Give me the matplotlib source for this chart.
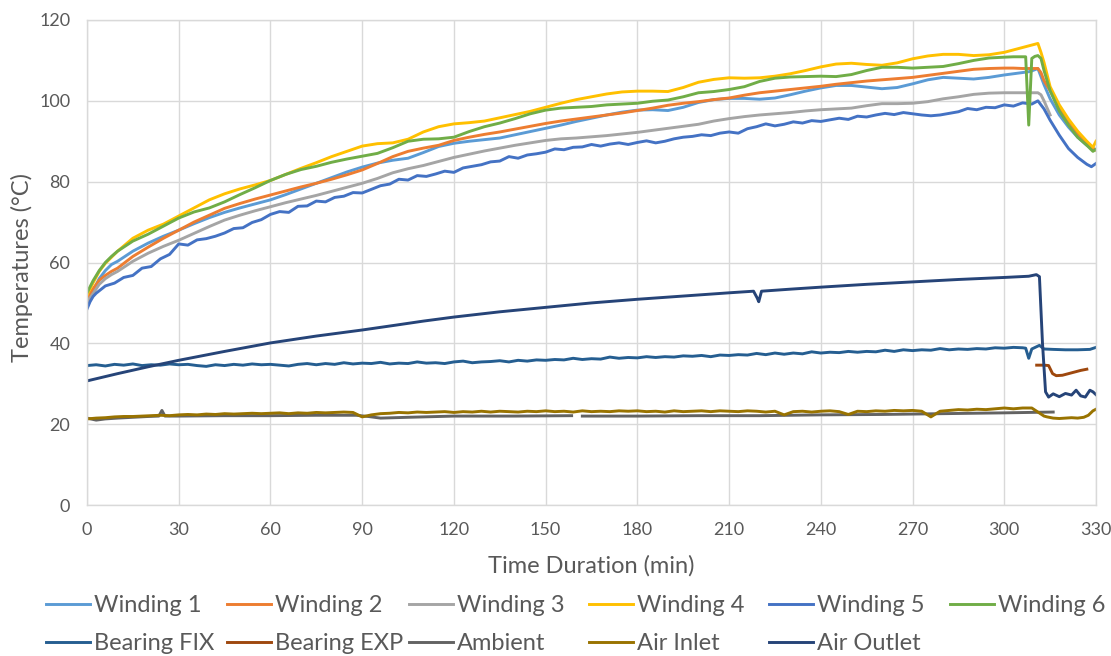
import numpy as np
import matplotlib
matplotlib.use("Agg")
import matplotlib.pyplot as plt

plt.rcParams["font.family"] = ["Lato", "DejaVu Sans"]

# ---- data ----
t_w = [0, 1, 2, 4, 6, 8] + list(range(10, 301, 5)) + \
      [303, 306, 307, 308, 309, 310, 311, 312, 313, 315, 318, 321, 324, 327, 329, 330]

winding_1 = [50, 51.5, 53, 56, 58, 59.5,
             60.3, 62.8, 64.8, 66.5, 68, 69.6, 71.1, 72.4, 73.5, 74.5, 75.5, 76.8, 78.2, 79.6,
             81, 82.4, 83.6, 84.6, 85.3, 85.8, 87.2, 88.7, 89.5, 90, 90.4, 90.8, 91.6, 92.4,
             93.2, 94, 94.9, 95.7, 96.5, 97.2, 97.7, 97.8, 97.6, 98.4, 99.6, 100.3, 100.6, 100.6,
             100.4, 100.7, 101.5, 102.4, 103.2, 103.8, 103.8, 103.4, 103, 103.3, 104.2, 105.2,
             105.8, 105.6, 105.4, 105.8, 106.4,
             106.7, 107, 107.1, 107.2, 107.4, 107.7, 108, 106, 104, 100.5, 96.5, 93.5, 91, 89, 88, 88]

winding_2 = [51, 52.3, 53.5, 55.6, 56.8, 57.8,
             58.6, 61.5, 63.8, 66, 68, 70, 71.7, 73.4, 74.6, 75.7, 76.7, 77.7, 78.7, 79.6,
             80.6, 81.7, 82.9, 84.5, 86.2, 87.5, 88.3, 89, 90.2, 91, 91.7, 92.3, 93, 93.7,
             94.4, 95, 95.5, 96, 96.5, 97, 97.6, 98.2, 98.9, 99.4, 99.8, 100.3, 100.7, 101.4,
             102, 102.4, 102.8, 103.2, 103.6, 104.1, 104.5, 104.9, 105.2, 105.5, 105.8, 106.3,
             106.8, 107.3, 107.8, 108, 108.1,
             108.1, 108, 108, 108, 108, 108, 108, 107, 105, 102.5, 98.5, 95, 92, 89.7, 88.3, 87.8]

winding_3 = [50, 51.3, 52.3, 54.6, 56, 57,
             57.8, 60.3, 62.3, 64, 65.5, 67.2, 68.9, 70.5, 71.7, 72.8, 73.8, 74.8, 75.7, 76.6,
             77.6, 78.6, 79.6, 80.8, 82.2, 83.2, 84, 85, 86, 86.8, 87.6, 88.3, 89, 89.6,
             90.2, 90.6, 90.8, 91.1, 91.4, 91.8, 92.2, 92.7, 93.2, 93.7, 94.2, 95, 95.6, 96.1,
             96.5, 96.8, 97.1, 97.5, 97.8, 98, 98.2, 98.8, 99.3, 99.3, 99.4, 99.8,
             100.5, 101, 101.6, 101.9, 102,
             102, 102, 102, 102, 102, 102, 102, 101.5, 100, 96.5, np.nan, np.nan, np.nan, np.nan, np.nan, np.nan]

winding_4 = [52, 53.5, 55, 57.8, 59.8, 61.3,
             62.8, 66, 68, 69.5, 71.5, 73.5, 75.5, 77, 78.2, 79.2, 80.3, 81.8, 83.3, 84.7,
             86.2, 87.5, 88.8, 89.4, 89.6, 90.5, 92.3, 93.6, 94.3, 94.6, 95, 95.8, 96.6, 97.4,
             98.4, 99.4, 100.3, 101, 101.7, 102.2, 102.4, 102.4, 102.3, 103.3, 104.6, 105.3, 105.7, 105.6,
             105.7, 106.1, 106.7, 107.5, 108.4, 109.1, 109.3, 109, 108.8, 109.4, 110.4, 111.1,
             111.5, 111.5, 111.2, 111.4, 112,
             112.6, 113.2, 113.4, 113.6, 113.8, 114, 114.2, 112, 109.5, 103.5, 99, 95.5, 92.5, 90, 88.5, 90]

winding_6 = [52.5, 54, 55.5, 58, 60, 61.5,
             62.8, 65.3, 67, 69, 71, 72.5, 73.5, 75, 76.8, 78.5, 80.3, 81.8, 83, 83.8,
             84.8, 85.6, 86.3, 87, 88.4, 90, 90.5, 90.6, 91, 92.4, 93.6, 94.5, 95.6, 96.8,
             97.7, 98.2, 98.4, 98.6, 99, 99.2, 99.4, 99.9, 100.2, 101, 102, 102.3, 102.8, 103.5,
             104.8, 105.6, 105.9, 106, 106.1, 106, 106.5, 107.5, 108.3, 108.3, 108.1, 108.3,
             108.5, 109.2, 110, 110.6, 110.8,
             110.9, 110.9, 110.9, 94, 110.5, 111, 111.2, 110.5, 107.5, 102.5, 97.5, 94, 91, 89, 87.5, 88]

t_w5 = [0, 1, 2] + list(range(3, 310, 3)) + [311, 313, 315, 318, 321, 324, 327, 328.5, 330]
winding_5 = [48.5, 50.3, 51.6,
             52.4, 54.2, 54.9, 56.3, 56.8, 58.6, 59.0, 60.9, 62.0, 64.6, 64.3, 65.6, 65.9, 66.5,
             67.3, 68.4, 68.6, 69.9, 70.6, 71.9, 72.6, 72.4, 73.9, 74.0, 75.2, 75.0, 76.1, 76.4,
             77.3, 77.2, 78.1, 79.0, 79.4, 80.6, 80.4, 81.5, 81.3, 81.9, 82.6, 82.3, 83.4, 83.8,
             84.2, 84.9, 85.1, 86.2, 85.8, 86.6, 86.9, 87.3, 88.1, 87.9, 88.5, 88.6, 89.2, 88.8,
             89.3, 89.6, 89.2, 89.7, 90.1, 89.6, 90.0, 90.6, 91.0, 91.2, 91.6, 91.4, 92.0, 92.3,
             92.0, 93.1, 93.6, 94.3, 93.8, 94.2, 94.8, 94.5, 95.1, 94.9, 95.3, 95.7, 95.4, 96.2,
             96.0, 96.5, 96.9, 96.6, 97.1, 96.8, 96.5, 96.3, 96.5, 96.9, 97.3, 98.1, 97.8, 98.4,
             98.3, 99.0, 98.7, 99.5, 99.2,
             100.0, 98.0, 95.2, 91.5, 88.2, 86.0, 84.3, 83.7, 84.5]

t_fix = list(range(0, 307, 3)) + [307, 308, 309, 311.5, 313, 316, 320, 324, 328, 330]
bearing_fix = [34.5, 34.7, 34.4, 34.8, 34.6, 34.9, 34.5, 34.7, 34.6, 34.9, 34.7, 34.8, 34.5,
               34.3, 34.7, 34.5, 34.8, 34.6, 34.9, 34.7, 34.8, 34.6, 34.4, 34.8, 35.0, 34.7,
               35.0, 34.8, 35.2, 34.9, 35.1, 35.0, 35.3, 34.9, 35.1, 35.0, 35.4, 35.1, 35.2,
               35.0, 35.4, 35.6, 35.2, 35.4, 35.5, 35.7, 35.4, 35.8, 35.6, 35.9, 35.8, 36.0,
               35.9, 36.3, 36.0, 36.2, 36.1, 36.6, 36.3, 36.5, 36.4, 36.7, 36.5, 36.7, 36.6,
               36.9, 36.8, 37.0, 36.7, 37.1, 37.0, 37.2, 37.1, 37.5, 37.2, 37.6, 37.3, 37.6,
               37.4, 37.9, 37.6, 37.8, 37.7, 38.0, 37.8, 38.0, 37.9, 38.3, 38.0, 38.4, 38.2,
               38.4, 38.3, 38.7, 38.4, 38.6, 38.5, 38.7, 38.6, 38.9, 38.8, 39.0, 38.9,
               38.8, 36.3, 38.6, 39.5, 38.6, 38.5, 38.4, 38.4, 38.5, 39.0]

t_exp = [310.6, 313, 314.5, 315.8, 317, 319, 321, 323, 325, 327]
bearing_exp = [34.6, 34.6, 34.5, 32.5, 32.0, 32.1, 32.5, 32.9, 33.3, 33.6]

t_amb = [0, 3, 6, 10, 15, 20, 23.5, 24.5, 25.5, 30, 45, 60, 75, 88, 92, 96, 105, 120, 140,
         158.5, 159, 161, 162, 180, 200, 220, 240, 260, 280, 300, 316]
ambient = [21.5, 21.0, 21.3, 21.5, 21.7, 21.9, 22.0, 23.4, 22.0, 22.0, 22.1, 22.1, 22.2, 22.2,
           21.9, 21.5, 21.7, 22.0, 22.0, 22.1, np.nan, np.nan, 22.0, 22.0, 22.1, 22.1, 22.3,
           22.4, 22.6, 22.8, 23.0]

t_in = list(range(0, 312, 3)) + [313, 314, 316, 318, 320, 322, 324, 326, 327.5, 329, 330]
air_inlet = [21.3, 21.5, 21.6, 21.8, 21.9, 21.9, 22.0, 22.1, 22.2, 22.1, 22.3, 22.4, 22.3,
             22.5, 22.4, 22.6, 22.5, 22.6, 22.7, 22.6, 22.7, 22.8, 22.6, 22.8, 22.7, 22.9,
             22.8, 22.9, 23.0, 22.9, 21.8, 22.3, 22.6, 22.7, 22.9, 22.8, 23.0, 22.9, 23.0,
             23.1, 22.9, 23.1, 23.0, 23.2, 23.0, 23.2, 23.1, 23.0, 23.2, 23.1, 23.3, 23.1,
             23.2, 23.0, 23.3, 23.1, 23.2, 23.1, 23.3, 23.2, 23.3, 23.1, 23.2, 23.0, 23.3,
             23.1, 23.2, 23.3, 23.1, 23.3, 23.2, 23.1, 23.3, 23.2, 23.0, 23.2, 22.3, 23.1,
             23.2, 23.0, 23.2, 23.3, 23.1, 22.4, 23.2, 23.1, 23.3, 23.2, 23.4, 23.3, 23.4,
             23.2, 21.8, 23.2, 23.4, 23.6, 23.5, 23.7, 23.6, 23.8, 24.0, 23.8, 24.0, 24.0,
             22.0, 21.8, 21.5, 21.4, 21.5, 21.6, 21.5, 21.7, 22.2, 23.3, 23.7]

t_out = [0, 10, 20, 30, 45, 60, 75, 90, 101, 110, 120, 135, 150, 165, 180, 195, 210, 218,
         219.2, 219.7, 220.6, 230, 240, 255, 270, 285, 300, 308, 310.5, 311.5, 312.5, 313.5,
         314.5, 316, 318, 320, 322, 323.5, 325, 326.5, 328, 329, 330]
air_outlet = [30.7, 32.5, 34.2, 35.8, 38.0, 40.1, 41.8, 43.3, 44.5, 45.5, 46.5, 47.8, 48.9,
              50.0, 50.9, 51.7, 52.5, 52.9, 51.2, 50.3, 52.9, 53.4, 53.9, 54.6, 55.2, 55.8,
              56.3, 56.6, 57.0, 56.5, 40.0, 28.0, 26.7, 27.5, 26.8, 27.6, 27.2, 28.4, 27.0,
              26.7, 28.4, 28.0, 27.3]

series = [
    ("Winding 1", t_w, winding_1, "#5B9BD5"),
    ("Winding 2", t_w, winding_2, "#ED7D31"),
    ("Winding 3", t_w, winding_3, "#A5A5A5"),
    ("Winding 4", t_w, winding_4, "#FFC000"),
    ("Winding 5", t_w5, winding_5, "#4472C4"),
    ("Winding 6", t_w, winding_6, "#70AD47"),
    ("Bearing FIX", t_fix, bearing_fix, "#255E91"),
    ("Bearing EXP", t_exp, bearing_exp, "#9E480E"),
    ("Ambient", t_amb, ambient, "#636363"),
    ("Air Inlet", t_in, air_inlet, "#997300"),
    ("Air Outlet", t_out, air_outlet, "#264478"),
]

fig = plt.figure(figsize=(11.11, 6.56), dpi=100)
ax = fig.add_axes([87 / 1111, 1 - 505 / 656, (1096 - 87) / 1111, (505 - 20) / 656])

handles = []
for name, t, y, colour in series:
    line, = ax.plot(t, y, color=colour, linewidth=2.1, label=name, solid_joinstyle="round")
    handles.append(line)

grid_colour = "#D9D9D9"
ax.set_xlim(0, 330)
ax.set_ylim(0, 120)
ax.set_xticks(range(0, 331, 30))
ax.set_yticks(range(0, 121, 20))
ax.grid(True, color=grid_colour, linewidth=1.0)
ax.set_axisbelow(True)
for side in ax.spines.values():
    side.set_color(grid_colour)
    side.set_linewidth(1.0)
ax.tick_params(length=0, labelsize=13, labelcolor="#595959", pad=12)
ax.set_xlabel("Time Duration (min)", fontsize=17, color="#595959")
ax.set_ylabel("Temperatures (°C)", fontsize=17, color="#595959")
ax.xaxis.set_label_coords((591 - 87) / 1009, -(566 - 505) / 485)
ax.yaxis.set_label_coords(-(87 - 22) / 1009, (505 - 267) / 485)
ax.xaxis.label.set_va("center")
ax.yaxis.label.set_va("center")

# legend: Excel-style grid, one small legend per column
col_x = [46, 227, 409, 589, 769, 950]
for i, x in enumerate(col_x):
    col = [handles[i]] + ([handles[i + 6]] if i + 6 < len(handles) else [])
    fig.legend(handles=col, loc="upper left", bbox_to_anchor=(x / 1111, 1 - 595 / 656),
               frameon=False, fontsize=17, handlelength=1.85, handletextpad=0.2,
               borderpad=0, borderaxespad=0, labelspacing=0.72, labelcolor="#595959")

fig.savefig("out.png", dpi=100)
